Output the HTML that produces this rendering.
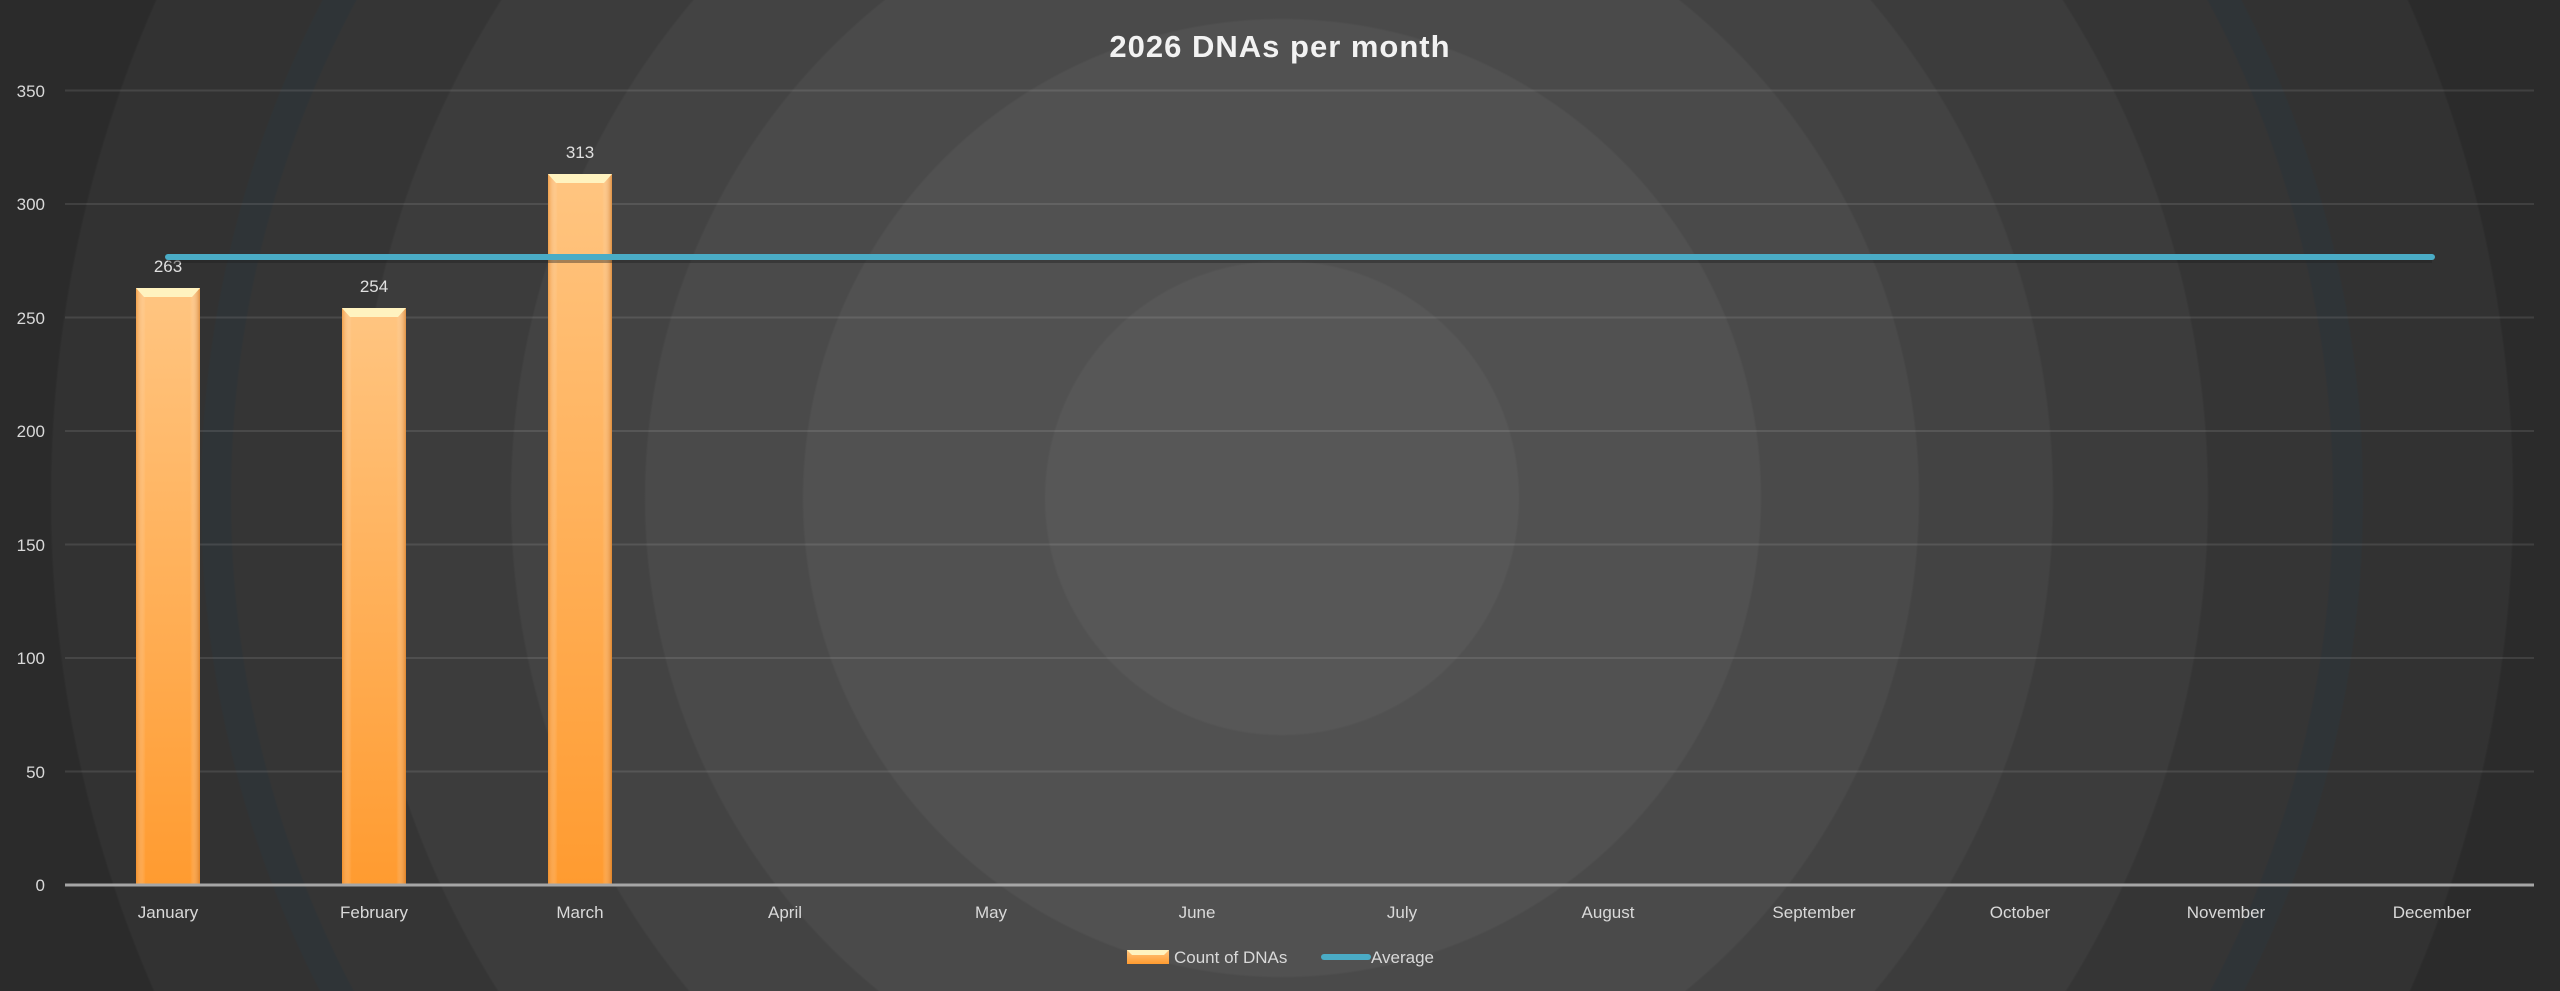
<!DOCTYPE html>
<html><head><meta charset="utf-8"><style>
html,body{margin:0;padding:0}
body{width:2560px;height:991px;overflow:hidden;font-family:"Liberation Sans","DejaVu Sans",sans-serif;
background:radial-gradient(circle at 1282px 498px,#575757 0,#575757 236px,#515151 238px,#515151 478px,#4a4a4a 480px,#4a4a4a 636px,#434343 638px,#434343 770px,#3c3c3c 772px,#3c3c3c 925px,#353535 927px,#353535 1050px,#2f3437 1052px,#2f3437 1080px,#323232 1082px,#323232 1230px,#2b2b2b 1232px,#2b2b2b 1380px,#252525 1382px);}
</style></head><body>
<svg width="2560" height="991" xmlns="http://www.w3.org/2000/svg" style="position:absolute;left:0;top:0">
<defs>
<linearGradient id="bar" x1="0" y1="0" x2="0" y2="1"><stop offset="0" stop-color="#ffc581"/><stop offset="1" stop-color="#ff9b30"/></linearGradient>
<linearGradient id="side" x1="0" y1="0" x2="1" y2="0"><stop offset="0" stop-color="#e8892a" stop-opacity=".6"/><stop offset=".15" stop-color="#fff" stop-opacity="0"/><stop offset=".85" stop-color="#fff" stop-opacity="0"/><stop offset="1" stop-color="#c86f1c" stop-opacity=".6"/></linearGradient>
</defs>
<text x="1280" y="57" fill="#f2f2f2" font-size="31" font-weight="bold" text-anchor="middle" letter-spacing="1">2026 DNAs per month</text>
<g stroke="#ffffff" stroke-opacity=".1" stroke-width="2">
<line x1="65" x2="2534" y1="90.5" y2="90.5"/><line x1="65" x2="2534" y1="204" y2="204"/><line x1="65" x2="2534" y1="317.5" y2="317.5"/><line x1="65" x2="2534" y1="431" y2="431"/><line x1="65" x2="2534" y1="544.5" y2="544.5"/><line x1="65" x2="2534" y1="658" y2="658"/><line x1="65" x2="2534" y1="771.5" y2="771.5"/>
</g>
<g fill="#d9d9d9" font-size="17" text-anchor="end">
<text x="45" y="97">350</text><text x="45" y="210">300</text><text x="45" y="324">250</text><text x="45" y="437">200</text><text x="45" y="551">150</text><text x="45" y="664">100</text><text x="45" y="778">50</text><text x="45" y="891">0</text>
</g>
<g>
<rect x="136" y="288" width="64" height="597" fill="url(#bar)"/><rect x="136" y="288" width="64" height="597" fill="url(#side)"/><polygon points="136,288 200,288 192,297 144,297" fill="#fff3c0"/>
<rect x="342" y="308" width="64" height="577" fill="url(#bar)"/><rect x="342" y="308" width="64" height="577" fill="url(#side)"/><polygon points="342,308 406,308 398,317 350,317" fill="#fff3c0"/>
<rect x="548" y="174" width="64" height="711" fill="url(#bar)"/><rect x="548" y="174" width="64" height="711" fill="url(#side)"/><polygon points="548,174 612,174 604,183 556,183" fill="#fff3c0"/>
</g>
<g fill="#e0e0e0" font-size="17" text-anchor="middle">
<text x="168" y="272">263</text><text x="374" y="292">254</text><text x="580" y="158">313</text>
</g>
<line x1="168" x2="2432" y1="257" y2="257" stroke="#1e1e1e" stroke-opacity=".4" stroke-width="6" transform="translate(0,3)"/>
<line x1="168" x2="2432" y1="257" y2="257" stroke="#4aacc6" stroke-width="6" stroke-linecap="round"/>
<line x1="65" x2="2534" y1="885" y2="885" stroke="#a6a6a6" stroke-width="3"/>
<g fill="#d9d9d9" font-size="17" text-anchor="middle">
<text x="168" y="918">January</text><text x="374" y="918">February</text><text x="580" y="918">March</text><text x="785" y="918">April</text><text x="991" y="918">May</text><text x="1197" y="918">June</text><text x="1402" y="918">July</text><text x="1608" y="918">August</text><text x="1814" y="918">September</text><text x="2020" y="918">October</text><text x="2226" y="918">November</text><text x="2432" y="918">December</text>
</g>
<rect x="1127" y="950" width="42" height="14" fill="url(#bar)"/><polygon points="1127,950 1169,950 1164,955 1132,955" fill="#fff3c0"/>
<text x="1174" y="963" fill="#d9d9d9" font-size="17">Count of DNAs</text>
<line x1="1324" x2="1368" y1="957" y2="957" stroke="#4aacc6" stroke-width="6" stroke-linecap="round"/>
<text x="1371" y="963" fill="#d9d9d9" font-size="17">Average</text>
</svg>
</body></html>
